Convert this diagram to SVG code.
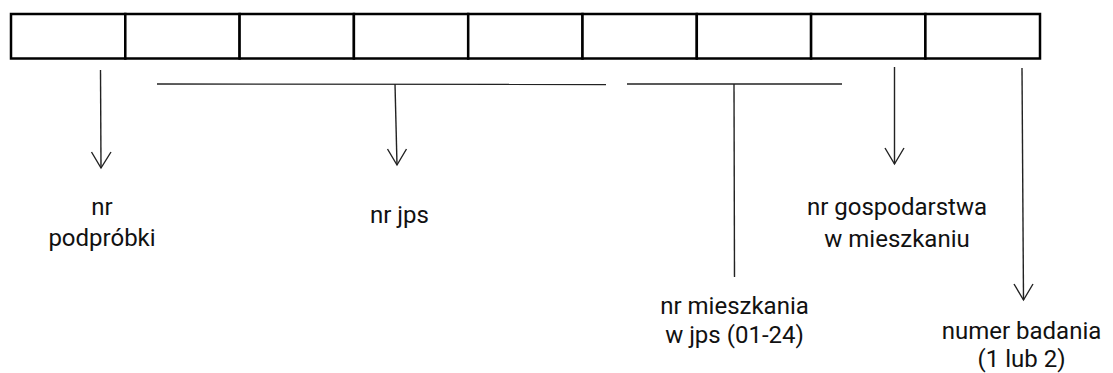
<svg xmlns="http://www.w3.org/2000/svg" width="1113" height="373" viewBox="0 0 1113 373">
<style>
.cell{fill:#fff;stroke:#000;stroke-width:2.5}
.ln{fill:none;stroke:#222;stroke-width:1.4}
.hd{fill:none;stroke:#222;stroke-width:1.4;stroke-linejoin:miter}
.t{font-family:Roboto,"Open Sans",sans-serif;font-size:24px;fill:#111;text-anchor:middle}
</style>
<rect width="1113" height="373" fill="#fff"/>
<g id="cells">
<rect class="cell" x="11" y="14" width="114.3" height="44.5"/>
<rect class="cell" x="125.3" y="14" width="114.3" height="44.5"/>
<rect class="cell" x="239.6" y="14" width="114.3" height="44.5"/>
<rect class="cell" x="353.9" y="14" width="114.3" height="44.5"/>
<rect class="cell" x="468.2" y="14" width="114.3" height="44.5"/>
<rect class="cell" x="582.5" y="14" width="114.3" height="44.5"/>
<rect class="cell" x="696.8" y="14" width="114.3" height="44.5"/>
<rect class="cell" x="811.1" y="14" width="114.3" height="44.5"/>
<rect class="cell" x="925.4" y="14" width="114.6" height="44.5"/>
</g>
<g id="connectors">
<line class="ln" x1="100.5" y1="70" x2="101" y2="168"/>
<path class="hd" d="M91.5,152 L101,168 L111,152"/>
<line class="ln" x1="157" y1="84" x2="606" y2="84.5"/>
<line class="ln" x1="395" y1="84" x2="397" y2="165"/>
<path class="hd" d="M387.5,149 L397,165 L406.5,149"/>
<line class="ln" x1="627" y1="84" x2="842" y2="84"/>
<line class="ln" x1="734" y1="84" x2="734.5" y2="277"/>
<line class="ln" x1="894.5" y1="67" x2="894.5" y2="164"/>
<path class="hd" d="M885,148 L894.5,164 L904,148"/>
<line class="ln" x1="1022" y1="68" x2="1023.5" y2="300"/>
<path class="hd" d="M1014,284 L1023.5,300 L1033,284"/>
</g>
<g id="n-podprobki"><text class="t" x="102" y="214.5">nr</text><text class="t" x="102" y="245.5">podpróbki</text></g>
<g id="n-jps"><text class="t" x="399.5" y="222.5">nr jps</text></g>
<g id="n-gosp"><text class="t" x="897" y="215">nr gospodarstwa</text><text class="t" x="897" y="246.5">w mieszkaniu</text></g>
<g id="n-miesz"><text class="t" x="734.5" y="313.5">nr mieszkania</text><text class="t" x="734.5" y="343">w jps (01-24)</text></g>
<g id="n-badania"><text class="t" x="1021.5" y="339">numer badania</text><text class="t" x="1021.5" y="366.5">(1 lub 2)</text></g>
</svg>
